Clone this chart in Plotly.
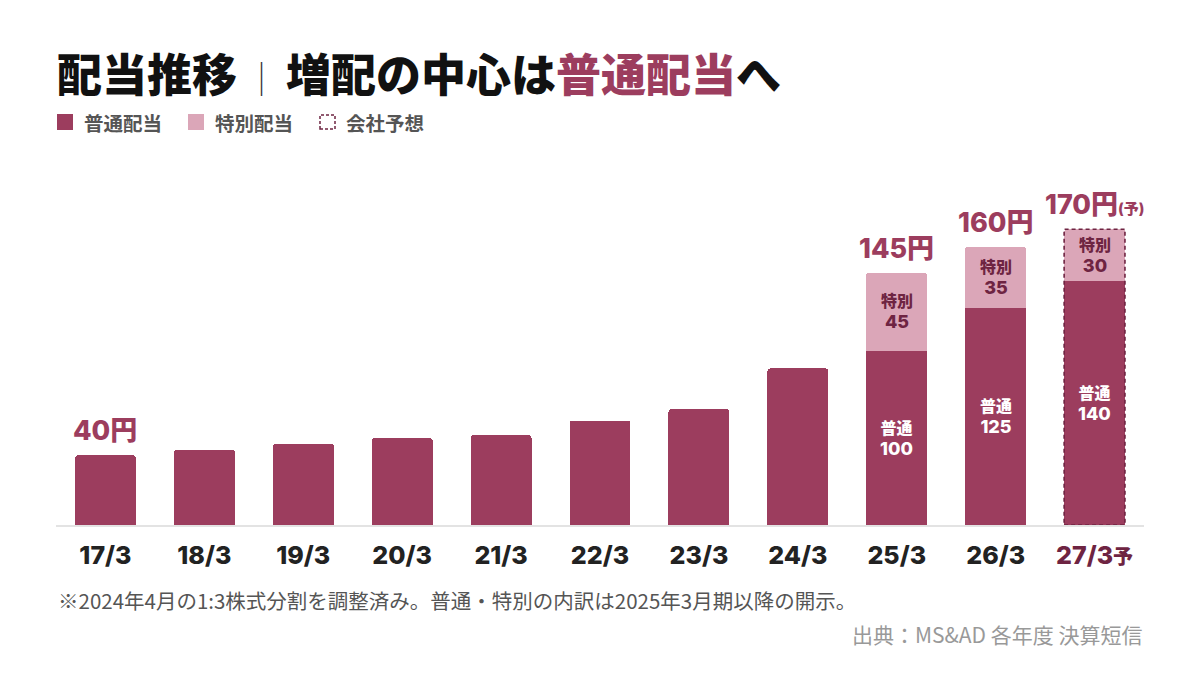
import plotly.graph_objects as go

categories = ["17/3", "18/3", "19/3", "20/3", "21/3", "22/3", "23/3", "24/3", "25/3", "26/3", "27/3"]
ordinary = [40, 43.3, 46.7, 50, 51.7, 60, 66.7, 90, 100, 125, 140]
special = [0, 0, 0, 0, 0, 0, 0, 0, 45, 35, 30]
total_labels = {0: "40円", 8: "145円", 9: "160円", 10: "170円<span style='font-size:15px'>(予)</span>"}
breakdown_from = 8
forecast_index = 10
legend_names = ["普通配当", "特別配当", "会社予想"]

C_ORD = "#9c3d5e"
C_SPE = "#dba6b8"
C_DARK = "#6e2442"
CJK = "Noto Sans CJK JP"
NUM = "Inter, Noto Sans CJK JP"
BARGAP = 0.385

W, H = 1200, 680
ML, MR, MT, MB = 56, 56, 150, 155
PW, PH = W - ML - MR, H - MT - MB


def px2x(p):
    return (p - ML) / PW


def py2y(p):
    return (H - MB - p) / PH


x = list(range(len(categories)))
fig = go.Figure()
fig.add_bar(x=x, y=ordinary, marker=dict(color=C_ORD, line=dict(width=0), cornerradius=3),
            name=legend_names[0], hoverinfo="skip")
fig.add_bar(x=x, y=special, marker=dict(color=C_SPE, line=dict(width=0), cornerradius=3),
            name=legend_names[1], hoverinfo="skip")

ann = []
shapes = []
# total labels
for i, t in total_labels.items():
    tot = ordinary[i] + special[i]
    ann.append(dict(x=x[i], y=tot, xref="x", yref="y", text=t, showarrow=False,
                    yanchor="bottom", yshift=6,
                    font=dict(family=NUM, size=27, color=C_ORD, weight=800)))
# breakdown labels
for i in range(breakdown_from, len(categories)):
    ann.append(dict(x=x[i], y=ordinary[i] / 2, xref="x", yref="y",
                    text=f"普通<br><span style='font-size:18px'>{ordinary[i]:g}</span>", showarrow=False,
                    font=dict(family=NUM, size=16, color="white", weight=800)))
    ann.append(dict(x=x[i], y=ordinary[i] + special[i] / 2, xref="x", yref="y",
                    text=f"特別<br><span style='font-size:18px'>{special[i]:g}</span>", showarrow=False,
                    font=dict(family=NUM, size=16, color=C_DARK, weight=800)))
# forecast dashed outline
hw = (1 - BARGAP) / 2
fi = forecast_index
shapes.append(dict(type="rect", xref="x", yref="y", x0=x[fi] - hw, x1=x[fi] + hw, y0=0,
                   y1=ordinary[fi] + special[fi], line=dict(color=C_DARK, width=1.6, dash="4px,3px"),
                   fillcolor="rgba(0,0,0,0)", layer="above"))

# title
ann.append(dict(xref="paper", yref="paper", x=px2x(55), y=py2y(72), xanchor="left", yanchor="middle",
                text="配当推移<span style='font-size:34px;color:#333;font-weight:300'> ｜ </span>増配の中心は<span style='color:%s'>普通配当</span>へ" % C_ORD,
                showarrow=False, font=dict(family=CJK, size=45, color="#111", weight=900)))
# manual legend
leg_pos = [57, 188, 319]
leg_style = [C_ORD, C_SPE, None]
for name, px, col in zip(legend_names, leg_pos, leg_style):
    if col:
        shapes.append(dict(type="rect", xref="paper", yref="paper", x0=px2x(px), x1=px2x(px + 16),
                           y0=py2y(130), y1=py2y(114), fillcolor=col, line=dict(width=0)))
    else:
        shapes.append(dict(type="rect", xref="paper", yref="paper", x0=px2x(px + 1), x1=px2x(px + 16),
                           y0=py2y(129), y1=py2y(115), fillcolor="rgba(0,0,0,0)",
                           line=dict(color=C_DARK, width=1.5, dash="3px,2px")))
    ann.append(dict(xref="paper", yref="paper", x=px2x(px + 25), y=py2y(122), xanchor="left", yanchor="middle",
                    text=name, showarrow=False, font=dict(family=CJK, size=19.5, color="#555", weight=700)))

ann.append(dict(xref="paper", yref="paper", x=px2x(56), y=py2y(600), xanchor="left", yanchor="middle",
                text="※2024年4月の1:3株式分割を調整済み。普通・特別の内訳は2025年3月期以降の開示。",
                showarrow=False, font=dict(family=CJK, size=20.5, color="#555")))
ann.append(dict(xref="paper", yref="paper", x=px2x(1144), y=py2y(634), xanchor="right", yanchor="middle",
                text="出典：MS&AD 各年度 決算短信", showarrow=False,
                font=dict(family=CJK, size=21, color="#999")))

ticktext = list(categories)
ticktext[forecast_index] = f"<span style='color:{C_DARK}'>{categories[forecast_index]}<span style='font-size:20px'>予</span></span>"

fig.update_layout(
    width=W, height=H, barmode="stack", bargap=BARGAP, showlegend=False,
    plot_bgcolor="white", paper_bgcolor="white",
    margin=dict(l=ML, r=MR, t=MT, b=MB),
    font=dict(family=CJK),
    xaxis=dict(tickvals=x, ticktext=ticktext, range=[-0.5, len(categories) - 0.5],
               showline=True, linecolor="#e3e3e3", linewidth=2, showgrid=False, zeroline=False,
               ticks="", ticklabelstandoff=7,
               tickfont=dict(family=NUM, size=25, color="#222", weight=800)),
    yaxis=dict(range=[0, PH / 1.74], visible=False, showgrid=False, zeroline=False),
    annotations=ann, shapes=shapes,
)

fig.write_html("out.html", config={"displayModeBar": False},
               post_script="document.body.style.margin='0';document.body.style.overflow='hidden';")
